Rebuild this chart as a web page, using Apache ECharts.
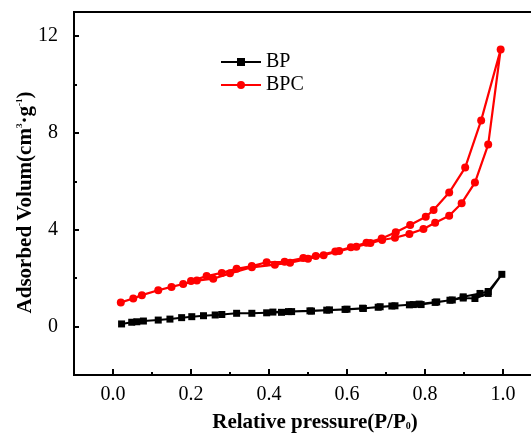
<!DOCTYPE html>
<html>
<head>
<meta charset="utf-8">
<script src="https://cdn.jsdelivr.net/npm/echarts@6/dist/echarts.min.js"></script>
<style>
html,body{margin:0;padding:0;background:#fff;}
#chart{width:531px;height:437px;}
</style>
</head>
<body>
<div id="chart"></div>
<script>
// ---- data ----
var seriesNames = ['BP', 'BPC'];

var bpAdsorption = [
  [0.022,0.11],[0.048,0.18],[0.061,0.20],[0.078,0.23],[0.116,0.27],[0.146,0.31],
  [0.176,0.37],[0.202,0.41],[0.232,0.45],[0.262,0.48],[0.279,0.50],[0.317,0.55],
  [0.356,0.55],[0.394,0.57],[0.432,0.59],[0.458,0.62],[0.509,0.64],[0.548,0.68],
  [0.595,0.71],[0.642,0.75],[0.685,0.82],[0.723,0.86],[0.770,0.91],[0.790,0.91],
  [0.826,1.00],[0.864,1.09],[0.898,1.18],[0.928,1.16],[0.962,1.37],[0.997,2.16]
];
var bpDesorption = [
  [0.962,1.45],[0.941,1.37],[0.898,1.23],[0.870,1.10],[0.830,1.02],[0.785,0.93],
  [0.760,0.90],[0.715,0.85],[0.680,0.80],[0.640,0.76],[0.600,0.72],[0.555,0.69],
  [0.505,0.65],[0.450,0.62],[0.410,0.60]
];
var bpcAdsorption = [
  [0.020,1.00],[0.052,1.16],[0.074,1.30],[0.116,1.50],[0.150,1.64],[0.180,1.76],
  [0.215,1.90],[0.257,1.98],[0.300,2.20],[0.356,2.45],[0.415,2.56],[0.454,2.64],
  [0.500,2.80],[0.540,2.95],[0.580,3.12],[0.624,3.30],[0.660,3.45],[0.690,3.58],
  [0.723,3.67],[0.760,3.83],[0.796,4.03],[0.826,4.29],[0.862,4.58],[0.894,5.10],
  [0.928,5.95],[0.962,7.52],[0.994,11.45]
];
var bpcDesorption = [
  [0.944,8.52],[0.903,6.57],[0.862,5.54],[0.822,4.82],[0.802,4.54],[0.762,4.20],
  [0.725,3.90],[0.689,3.64],[0.650,3.46],[0.610,3.28],[0.570,3.10],[0.520,2.92],
  [0.488,2.83],[0.440,2.68],[0.394,2.66],[0.356,2.50],[0.317,2.39],[0.279,2.22],
  [0.240,2.09],[0.200,1.88]
];

var xMajorTicks = [0.0, 0.2, 0.4, 0.6, 0.8, 1.0];
var xMinorTicks = [0.1, 0.3, 0.5, 0.7, 0.9];
var yMajorTicks = [0, 4, 8, 12];
var yMinorTicks = [2, 6, 10];

// ---- chart ----
var SERIF = '"Liberation Serif","Times New Roman",serif';
var chart = echarts.init(document.getElementById('chart'), null, {renderer: 'canvas'});

var axisLineStyle = {color: '#000', width: 2};

var option = {
  backgroundColor: '#fff',
  animation: false,
  grid: {
    left: 74, top: 12, width: 468, height: 363,
    outerBoundsMode: 'none', containLabel: false,
    show: true, borderColor: '#000', borderWidth: 2, backgroundColor: 'transparent'
  },
  legend: {
    orient: 'vertical',
    left: 215, top: 47,
    itemWidth: 40, itemHeight: 10, itemGap: 3,
    textStyle: {fontFamily: SERIF, fontSize: 20, color: '#000'},
    data: seriesNames
  },
  xAxis: [
    {
      type: 'value', min: -0.1, max: 1.1, position: 'bottom',
      axisLine: {show: true, onZero: false, lineStyle: axisLineStyle},
      axisTick: {show: true, inside: true, length: 6, lineStyle: {color: '#000', width: 2}, customValues: xMajorTicks},
      axisLabel: {
        customValues: xMajorTicks, margin: 10,
        fontFamily: SERIF, fontSize: 20, color: '#000',
        formatter: function (v) { return v.toFixed(1); }
      },
      splitLine: {show: false},
      name: 'Relative pressure(P/P{sub|0})',
      nameLocation: 'middle', nameGap: 37, nameMoveOverlap: false,
      nameTextStyle: {
        fontFamily: SERIF, fontSize: 21, fontWeight: 'bold', color: '#000',
        padding: [0, 0, 0, 14],
        rich: {sub: {fontFamily: SERIF, fontSize: 10, fontWeight: 'bold', color: '#000', padding: [8, 0, 0, 0]}}
      }
    },
    {
      type: 'value', min: -0.1, max: 1.1, position: 'bottom',
      axisLine: {show: false, onZero: false},
      axisTick: {show: true, inside: true, length: 3, lineStyle: {color: '#000', width: 2}, customValues: xMinorTicks},
      axisLabel: {show: false},
      splitLine: {show: false}
    }
  ],
  yAxis: [
    {
      type: 'value', min: -2, max: 13, position: 'left',
      axisLine: {show: true, onZero: false, lineStyle: axisLineStyle},
      axisTick: {show: true, inside: true, length: 5, lineStyle: {color: '#000', width: 2}, customValues: yMajorTicks},
      axisLabel: {
        customValues: yMajorTicks, margin: 16,
        fontFamily: SERIF, fontSize: 20, color: '#000'
      },
      splitLine: {show: false},
      name: 'Adsorbed Volum(cm{sup|3}·g{sup|-1})',
      nameLocation: 'middle', nameGap: 38, nameRotate: 90, nameMoveOverlap: false,
      nameTextStyle: {
        fontFamily: SERIF, fontSize: 21, fontWeight: 'bold', color: '#000',
        padding: [0, 18, 0, 0],
        rich: {sup: {fontFamily: SERIF, fontSize: 9, fontWeight: 'bold', color: '#000', padding: [0, 0, 11, 0]}}
      }
    },
    {
      type: 'value', min: -2, max: 13, position: 'left',
      axisLine: {show: false, onZero: false},
      axisTick: {show: true, inside: true, length: 3, lineStyle: {color: '#000', width: 2}, customValues: yMinorTicks},
      axisLabel: {show: false},
      splitLine: {show: false}
    }
  ],
  series: [
    {
      name: seriesNames[0], type: 'line',
      xAxisIndex: 0, yAxisIndex: 0,
      data: bpAdsorption.concat(bpDesorption),
      symbol: 'rect', symbolSize: 7, showAllSymbol: true,
      lineStyle: {color: '#000', width: 2},
      itemStyle: {color: '#000'}
    },
    {
      name: seriesNames[1], type: 'line',
      xAxisIndex: 0, yAxisIndex: 0,
      data: bpcAdsorption.concat(bpcDesorption),
      symbol: 'circle', symbolSize: 8, showAllSymbol: true,
      lineStyle: {color: '#ff0000', width: 2.2},
      itemStyle: {color: '#ff0000'}
    }
  ]
};
chart.setOption(option);
</script>
</body>
</html>
